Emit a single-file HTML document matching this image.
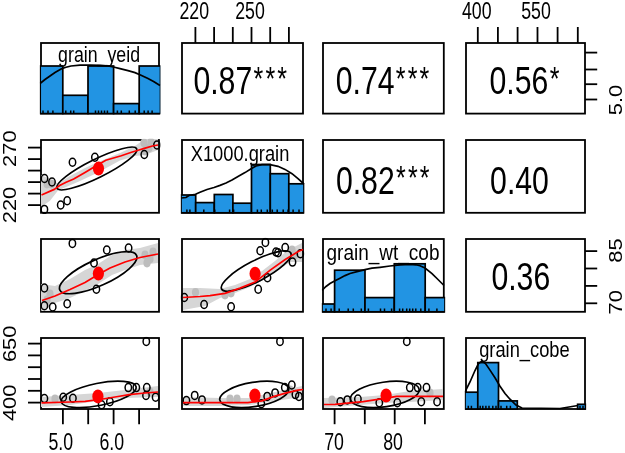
<!DOCTYPE html><html><head><meta charset="utf-8"><style>html,body{margin:0;padding:0;background:#fff;overflow:hidden}svg{display:block;filter:blur(0.3px)}text{font-family:"Liberation Sans",sans-serif}</style></head><body>
<svg width="625" height="453" viewBox="0 0 625 453">
<defs>
<clipPath id="c00"><rect x="39.8" y="41.8" width="120.6" height="73.0"/></clipPath>
<clipPath id="c01"><rect x="180.8" y="41.8" width="123.6" height="73.0"/></clipPath>
<clipPath id="c02"><rect x="321.8" y="41.8" width="123.4" height="73.0"/></clipPath>
<clipPath id="c03"><rect x="464.8" y="41.8" width="121.6" height="73.0"/></clipPath>
<clipPath id="c10"><rect x="39.8" y="138.8" width="120.6" height="75.20000000000002"/></clipPath>
<clipPath id="c11"><rect x="180.8" y="138.8" width="123.6" height="75.20000000000002"/></clipPath>
<clipPath id="c12"><rect x="321.8" y="138.8" width="123.4" height="75.20000000000002"/></clipPath>
<clipPath id="c13"><rect x="464.8" y="138.8" width="121.6" height="75.20000000000002"/></clipPath>
<clipPath id="c20"><rect x="39.8" y="237.8" width="120.6" height="75.20000000000002"/></clipPath>
<clipPath id="c21"><rect x="180.8" y="237.8" width="123.6" height="75.20000000000002"/></clipPath>
<clipPath id="c22"><rect x="321.8" y="237.8" width="123.4" height="75.20000000000002"/></clipPath>
<clipPath id="c23"><rect x="464.8" y="237.8" width="121.6" height="75.20000000000002"/></clipPath>
<clipPath id="c30"><rect x="39.8" y="336.8" width="120.6" height="73.4"/></clipPath>
<clipPath id="c31"><rect x="180.8" y="336.8" width="123.6" height="73.4"/></clipPath>
<clipPath id="c32"><rect x="321.8" y="336.8" width="123.4" height="73.4"/></clipPath>
<clipPath id="c33"><rect x="464.8" y="336.8" width="121.6" height="73.4"/></clipPath>
</defs>
<rect width="625" height="453" fill="#fff"/>
<rect x="41.0" y="43.0" width="118.0" height="70.6" fill="#fff" stroke="#000" stroke-width="1.8"/>
<rect x="182.0" y="43.0" width="121.0" height="70.6" fill="#fff" stroke="#000" stroke-width="1.8"/>
<rect x="323.0" y="43.0" width="120.80000000000001" height="70.6" fill="#fff" stroke="#000" stroke-width="1.8"/>
<rect x="466.0" y="43.0" width="119.0" height="70.6" fill="#fff" stroke="#000" stroke-width="1.8"/>
<rect x="41.0" y="140.0" width="118.0" height="72.80000000000001" fill="#fff" stroke="#000" stroke-width="1.8"/>
<rect x="182.0" y="140.0" width="121.0" height="72.80000000000001" fill="#fff" stroke="#000" stroke-width="1.8"/>
<rect x="323.0" y="140.0" width="120.80000000000001" height="72.80000000000001" fill="#fff" stroke="#000" stroke-width="1.8"/>
<rect x="466.0" y="140.0" width="119.0" height="72.80000000000001" fill="#fff" stroke="#000" stroke-width="1.8"/>
<rect x="41.0" y="239.0" width="118.0" height="72.80000000000001" fill="#fff" stroke="#000" stroke-width="1.8"/>
<rect x="182.0" y="239.0" width="121.0" height="72.80000000000001" fill="#fff" stroke="#000" stroke-width="1.8"/>
<rect x="323.0" y="239.0" width="120.80000000000001" height="72.80000000000001" fill="#fff" stroke="#000" stroke-width="1.8"/>
<rect x="466.0" y="239.0" width="119.0" height="72.80000000000001" fill="#fff" stroke="#000" stroke-width="1.8"/>
<rect x="41.0" y="338.0" width="118.0" height="71.0" fill="#fff" stroke="#000" stroke-width="1.8"/>
<rect x="182.0" y="338.0" width="121.0" height="71.0" fill="#fff" stroke="#000" stroke-width="1.8"/>
<rect x="323.0" y="338.0" width="120.80000000000001" height="71.0" fill="#fff" stroke="#000" stroke-width="1.8"/>
<rect x="466.0" y="338.0" width="119.0" height="71.0" fill="#fff" stroke="#000" stroke-width="1.8"/>
<g clip-path="url(#c00)">
<rect x="40.2" y="66.0" width="22.6" height="47.6" fill="#2294e3" stroke="#000" stroke-width="1.7"/>
<rect x="62.8" y="95.3" width="25.2" height="18.3" fill="#2294e3" stroke="#000" stroke-width="1.7"/>
<rect x="88.0" y="66.0" width="25.6" height="47.6" fill="#2294e3" stroke="#000" stroke-width="1.7"/>
<rect x="113.6" y="103.6" width="25.6" height="10.0" fill="#2294e3" stroke="#000" stroke-width="1.7"/>
<rect x="139.2" y="66.0" width="21.3" height="47.6" fill="#2294e3" stroke="#000" stroke-width="1.7"/>

<line x1="43" y1="110.4" x2="43" y2="113.6" stroke="#000" stroke-width="1.5"/>
<line x1="48" y1="110.4" x2="48" y2="113.6" stroke="#000" stroke-width="1.5"/>
<line x1="52.9" y1="110.4" x2="52.9" y2="113.6" stroke="#000" stroke-width="1.5"/>
<line x1="65.8" y1="110.4" x2="65.8" y2="113.6" stroke="#000" stroke-width="1.5"/>
<line x1="70.7" y1="110.4" x2="70.7" y2="113.6" stroke="#000" stroke-width="1.5"/>
<line x1="73.7" y1="110.4" x2="73.7" y2="113.6" stroke="#000" stroke-width="1.5"/>
<line x1="95.5" y1="110.4" x2="95.5" y2="113.6" stroke="#000" stroke-width="1.5"/>
<line x1="98.5" y1="110.4" x2="98.5" y2="113.6" stroke="#000" stroke-width="1.5"/>
<line x1="101.5" y1="110.4" x2="101.5" y2="113.6" stroke="#000" stroke-width="1.5"/>
<line x1="104.5" y1="110.4" x2="104.5" y2="113.6" stroke="#000" stroke-width="1.5"/>
<line x1="107.4" y1="110.4" x2="107.4" y2="113.6" stroke="#000" stroke-width="1.5"/>
<line x1="117.4" y1="110.4" x2="117.4" y2="113.6" stroke="#000" stroke-width="1.5"/>
<line x1="121.3" y1="110.4" x2="121.3" y2="113.6" stroke="#000" stroke-width="1.5"/>
<line x1="129.3" y1="110.4" x2="129.3" y2="113.6" stroke="#000" stroke-width="1.5"/>
<line x1="135.2" y1="110.4" x2="135.2" y2="113.6" stroke="#000" stroke-width="1.5"/>
<line x1="144.2" y1="110.4" x2="144.2" y2="113.6" stroke="#000" stroke-width="1.5"/>
<line x1="148.1" y1="110.4" x2="148.1" y2="113.6" stroke="#000" stroke-width="1.5"/>
<line x1="152.1" y1="110.4" x2="152.1" y2="113.6" stroke="#000" stroke-width="1.5"/>
<polyline points="40.0,83.5 45.0,79.5 50.0,76.0 55.0,72.5 61.5,68.8 66.0,67.3 71.0,66.0 80.0,65.2 90.0,65.0 100.0,65.3 108.0,66.0 113.5,67.0 120.0,68.6 128.0,70.6 135.0,72.6 141.0,75.2 148.0,78.5 154.0,81.8 160.0,85.5" fill="none" stroke="#000" stroke-width="1.7"/>
</g>
<g clip-path="url(#c11)">
<rect x="181.0" y="195.0" width="14.7" height="17.8" fill="#2294e3" stroke="#000" stroke-width="1.7"/>
<rect x="195.7" y="202.6" width="18.6" height="10.2" fill="#2294e3" stroke="#000" stroke-width="1.7"/>
<rect x="214.3" y="194.5" width="18.6" height="18.3" fill="#2294e3" stroke="#000" stroke-width="1.7"/>
<rect x="232.9" y="203.2" width="18.6" height="9.6" fill="#2294e3" stroke="#000" stroke-width="1.7"/>
<rect x="251.5" y="164.5" width="18.8" height="48.3" fill="#2294e3" stroke="#000" stroke-width="1.7"/>
<rect x="270.3" y="173.7" width="18.5" height="39.1" fill="#2294e3" stroke="#000" stroke-width="1.7"/>
<rect x="288.8" y="183.8" width="15.2" height="29.0" fill="#2294e3" stroke="#000" stroke-width="1.7"/>

<line x1="186.9" y1="209.6" x2="186.9" y2="212.8" stroke="#000" stroke-width="1.5"/>
<line x1="189.9" y1="209.6" x2="189.9" y2="212.8" stroke="#000" stroke-width="1.5"/>
<line x1="203.8" y1="209.6" x2="203.8" y2="212.8" stroke="#000" stroke-width="1.5"/>
<line x1="214.7" y1="209.6" x2="214.7" y2="212.8" stroke="#000" stroke-width="1.5"/>
<line x1="229.6" y1="209.6" x2="229.6" y2="212.8" stroke="#000" stroke-width="1.5"/>
<line x1="233.6" y1="209.6" x2="233.6" y2="212.8" stroke="#000" stroke-width="1.5"/>
<line x1="257.4" y1="209.6" x2="257.4" y2="212.8" stroke="#000" stroke-width="1.5"/>
<line x1="261.3" y1="209.6" x2="261.3" y2="212.8" stroke="#000" stroke-width="1.5"/>
<line x1="267.3" y1="209.6" x2="267.3" y2="212.8" stroke="#000" stroke-width="1.5"/>
<line x1="272.3" y1="209.6" x2="272.3" y2="212.8" stroke="#000" stroke-width="1.5"/>
<line x1="277.2" y1="209.6" x2="277.2" y2="212.8" stroke="#000" stroke-width="1.5"/>
<line x1="283.2" y1="209.6" x2="283.2" y2="212.8" stroke="#000" stroke-width="1.5"/>
<line x1="288.1" y1="209.6" x2="288.1" y2="212.8" stroke="#000" stroke-width="1.5"/>
<line x1="293.1" y1="209.6" x2="293.1" y2="212.8" stroke="#000" stroke-width="1.5"/>
<line x1="299" y1="209.6" x2="299" y2="212.8" stroke="#000" stroke-width="1.5"/>
<polyline points="181.0,198.0 186.0,197.5 189.0,195.5 195.5,194.3 200.0,192.2 207.0,189.5 214.0,187.5 220.0,185.4 226.0,183.0 232.0,180.0 238.0,176.4 245.0,172.6 251.5,168.5 256.0,166.0 262.0,164.6 270.0,164.6 278.0,166.3 285.0,169.4 292.0,173.7 298.0,178.7 304.0,184.0" fill="none" stroke="#000" stroke-width="1.7"/>
</g>
<g clip-path="url(#c22)">
<rect x="322.0" y="304.0" width="12.6" height="7.8" fill="#2294e3" stroke="#000" stroke-width="1.7"/>
<rect x="334.6" y="270.2" width="30.4" height="41.6" fill="#2294e3" stroke="#000" stroke-width="1.7"/>
<rect x="365.0" y="297.6" width="29.3" height="14.2" fill="#2294e3" stroke="#000" stroke-width="1.7"/>
<rect x="394.3" y="263.8" width="30.9" height="48.0" fill="#2294e3" stroke="#000" stroke-width="1.7"/>
<rect x="425.2" y="297.6" width="19.8" height="14.2" fill="#2294e3" stroke="#000" stroke-width="1.7"/>

<line x1="326" y1="308.6" x2="326" y2="311.8" stroke="#000" stroke-width="1.5"/>
<line x1="331.1" y1="308.6" x2="331.1" y2="311.8" stroke="#000" stroke-width="1.5"/>
<line x1="339.2" y1="308.6" x2="339.2" y2="311.8" stroke="#000" stroke-width="1.5"/>
<line x1="348.2" y1="308.6" x2="348.2" y2="311.8" stroke="#000" stroke-width="1.5"/>
<line x1="353.3" y1="308.6" x2="353.3" y2="311.8" stroke="#000" stroke-width="1.5"/>
<line x1="361.3" y1="308.6" x2="361.3" y2="311.8" stroke="#000" stroke-width="1.5"/>
<line x1="368.4" y1="308.6" x2="368.4" y2="311.8" stroke="#000" stroke-width="1.5"/>
<line x1="380.5" y1="308.6" x2="380.5" y2="311.8" stroke="#000" stroke-width="1.5"/>
<line x1="384.5" y1="308.6" x2="384.5" y2="311.8" stroke="#000" stroke-width="1.5"/>
<line x1="391.6" y1="308.6" x2="391.6" y2="311.8" stroke="#000" stroke-width="1.5"/>
<line x1="399.6" y1="308.6" x2="399.6" y2="311.8" stroke="#000" stroke-width="1.5"/>
<line x1="402.7" y1="308.6" x2="402.7" y2="311.8" stroke="#000" stroke-width="1.5"/>
<line x1="406.7" y1="308.6" x2="406.7" y2="311.8" stroke="#000" stroke-width="1.5"/>
<line x1="409.7" y1="308.6" x2="409.7" y2="311.8" stroke="#000" stroke-width="1.5"/>
<line x1="412.7" y1="308.6" x2="412.7" y2="311.8" stroke="#000" stroke-width="1.5"/>
<line x1="415.8" y1="308.6" x2="415.8" y2="311.8" stroke="#000" stroke-width="1.5"/>
<line x1="420.8" y1="308.6" x2="420.8" y2="311.8" stroke="#000" stroke-width="1.5"/>
<line x1="428.9" y1="308.6" x2="428.9" y2="311.8" stroke="#000" stroke-width="1.5"/>
<line x1="436.9" y1="308.6" x2="436.9" y2="311.8" stroke="#000" stroke-width="1.5"/>
<polyline points="322.0,290.3 326.0,286.5 330.0,283.5 335.0,280.8 340.0,278.2 345.0,275.6 350.0,273.5 358.0,271.4 365.0,269.6 372.0,268.2 380.0,267.3 390.0,266.0 400.0,264.8 410.0,264.4 416.0,264.8 420.0,265.8 425.0,268.0 432.0,273.7 438.0,279.5 444.0,285.5" fill="none" stroke="#000" stroke-width="1.7"/>
</g>
<g clip-path="url(#c33)">
<rect x="465.0" y="392.2" width="12.8" height="16.8" fill="#2294e3" stroke="#000" stroke-width="1.7"/>
<rect x="477.8" y="362.6" width="20.7" height="46.4" fill="#2294e3" stroke="#000" stroke-width="1.7"/>
<rect x="498.5" y="400.9" width="18.8" height="8.1" fill="#2294e3" stroke="#000" stroke-width="1.7"/>
<rect x="577.6" y="404.3" width="7.9" height="4.7" fill="#2294e3" stroke="#000" stroke-width="1.7"/>

<line x1="468.3" y1="405.8" x2="468.3" y2="409.0" stroke="#000" stroke-width="1.5"/>
<line x1="471.4" y1="405.8" x2="471.4" y2="409.0" stroke="#000" stroke-width="1.5"/>
<line x1="480.2" y1="405.8" x2="480.2" y2="409.0" stroke="#000" stroke-width="1.5"/>
<line x1="482.8" y1="405.8" x2="482.8" y2="409.0" stroke="#000" stroke-width="1.5"/>
<line x1="485.9" y1="405.8" x2="485.9" y2="409.0" stroke="#000" stroke-width="1.5"/>
<line x1="489" y1="405.8" x2="489" y2="409.0" stroke="#000" stroke-width="1.5"/>
<line x1="492.8" y1="405.8" x2="492.8" y2="409.0" stroke="#000" stroke-width="1.5"/>
<line x1="496" y1="405.8" x2="496" y2="409.0" stroke="#000" stroke-width="1.5"/>
<line x1="501" y1="405.8" x2="501" y2="409.0" stroke="#000" stroke-width="1.5"/>
<line x1="506.7" y1="405.8" x2="506.7" y2="409.0" stroke="#000" stroke-width="1.5"/>
<line x1="510.4" y1="405.8" x2="510.4" y2="409.0" stroke="#000" stroke-width="1.5"/>
<line x1="580" y1="405.8" x2="580" y2="409.0" stroke="#000" stroke-width="1.5"/>
<line x1="583" y1="405.8" x2="583" y2="409.0" stroke="#000" stroke-width="1.5"/>
<polyline points="465.0,391.8 470.0,382.0 475.0,370.5 478.5,363.5 482.0,361.0 485.5,363.6 490.0,370.1 495.0,377.8 500.0,386.2 505.0,393.5 510.0,399.2 516.0,405.0 522.0,408.0 560.0,408.5 572.0,406.5 578.0,405.5" fill="none" stroke="#000" stroke-width="1.7"/>
</g>
<g clip-path="url(#c10)">
<polygon points="41.0,175.0 50.0,179.0 58.0,183.4 70.0,176.0 85.0,168.0 98.0,162.0 120.0,153.0 135.0,146.0 145.0,139.0 158.0,139.0 158.0,150.0 145.0,155.0 135.0,156.0 120.0,160.5 98.0,172.5 80.0,181.0 66.0,187.0 58.0,190.4 50.0,200.7 41.0,207.0" fill="#d6d6d6"/>
<ellipse cx="144.0" cy="143.0" rx="3.6" ry="4.4" fill="#bdbdbd"/>
<ellipse cx="149.0" cy="148.0" rx="3.6" ry="4.4" fill="#bdbdbd"/>
<ellipse cx="145.0" cy="151.0" rx="3.6" ry="4.4" fill="#bdbdbd"/>
<ellipse cx="151.0" cy="142.0" rx="3.6" ry="4.4" fill="#bdbdbd"/>
<ellipse cx="47.0" cy="184.0" rx="3.6" ry="4.4" fill="#bdbdbd"/>
<ellipse cx="51.5" cy="184.0" rx="3.6" ry="4.4" fill="#bdbdbd"/>
<ellipse cx="72.5" cy="162.3" rx="3.2" ry="4.0" fill="none" stroke="#000" stroke-width="1.5"/>
<ellipse cx="94.9" cy="157.2" rx="3.2" ry="4.0" fill="none" stroke="#000" stroke-width="1.5"/>
<ellipse cx="60.7" cy="205.0" rx="3.2" ry="4.0" fill="none" stroke="#000" stroke-width="1.5"/>
<ellipse cx="67.2" cy="200.7" rx="3.2" ry="4.0" fill="none" stroke="#000" stroke-width="1.5"/>
<ellipse cx="44.5" cy="178.5" rx="3.2" ry="4.0" fill="none" stroke="#000" stroke-width="1.5"/>
<ellipse cx="44.4" cy="209.4" rx="3.2" ry="4.0" fill="none" stroke="#000" stroke-width="1.5"/>
<ellipse cx="144.3" cy="154.5" rx="3.2" ry="4.0" fill="none" stroke="#000" stroke-width="1.5"/>
<ellipse cx="157.0" cy="145.0" rx="3.2" ry="4.0" fill="none" stroke="#000" stroke-width="1.5"/>
<ellipse cx="52.0" cy="182.0" rx="3.2" ry="4.0" fill="none" stroke="#000" stroke-width="1.5"/>
<ellipse cx="96.8" cy="168.5" rx="44.5" ry="9.2" transform="rotate(-26.3 96.8 168.5)" fill="none" stroke="#000" stroke-width="1.7"/>
<polyline points="41.5,195.0 54.2,189.4 59.6,185.6 66.1,182.3 73.7,179.1 85.0,172.5 95.0,166.5 105.8,160.3 121.3,155.7 131.5,152.3 138.1,150.2 145.2,148.1 152.4,146.0 158.0,145.0" fill="none" stroke="#f00" stroke-width="1.7"/>
<ellipse cx="98.5" cy="168.6" rx="5.6" ry="7" fill="#f00"/>
</g>
<g clip-path="url(#c20)">
<polygon points="41.0,284.0 55.0,286.0 70.0,279.0 85.0,270.0 98.0,264.0 112.0,255.0 125.0,250.0 140.0,248.0 158.0,243.0 158.0,263.0 140.0,265.0 125.0,270.0 112.0,275.0 98.0,284.0 85.0,291.0 70.0,298.0 55.0,303.0 41.0,311.0" fill="#d6d6d6"/>
<ellipse cx="145.0" cy="255.0" rx="3.6" ry="4.4" fill="#bdbdbd"/>
<ellipse cx="150.0" cy="259.0" rx="3.6" ry="4.4" fill="#bdbdbd"/>
<ellipse cx="147.0" cy="263.0" rx="3.6" ry="4.4" fill="#bdbdbd"/>
<ellipse cx="153.0" cy="252.0" rx="3.6" ry="4.4" fill="#bdbdbd"/>
<ellipse cx="47.0" cy="300.0" rx="3.6" ry="4.4" fill="#bdbdbd"/>
<ellipse cx="50.0" cy="294.0" rx="3.6" ry="4.4" fill="#bdbdbd"/>
<ellipse cx="72.4" cy="243.4" rx="3.2" ry="4.0" fill="none" stroke="#000" stroke-width="1.5"/>
<ellipse cx="106.8" cy="250.0" rx="3.2" ry="4.0" fill="none" stroke="#000" stroke-width="1.5"/>
<ellipse cx="128.6" cy="248.0" rx="3.2" ry="4.0" fill="none" stroke="#000" stroke-width="1.5"/>
<ellipse cx="67.2" cy="303.7" rx="3.2" ry="4.0" fill="none" stroke="#000" stroke-width="1.5"/>
<ellipse cx="96.4" cy="289.2" rx="3.2" ry="4.0" fill="none" stroke="#000" stroke-width="1.5"/>
<ellipse cx="44.4" cy="288.0" rx="3.2" ry="4.0" fill="none" stroke="#000" stroke-width="1.5"/>
<ellipse cx="44.4" cy="305.8" rx="3.2" ry="4.0" fill="none" stroke="#000" stroke-width="1.5"/>
<ellipse cx="52.7" cy="307.0" rx="3.2" ry="4.0" fill="none" stroke="#000" stroke-width="1.5"/>
<ellipse cx="94.0" cy="263.0" rx="3.2" ry="4.0" fill="none" stroke="#000" stroke-width="1.5"/>
<ellipse cx="98.2" cy="272.7" rx="42.1" ry="13.0" transform="rotate(-24.4 98.2 272.7)" fill="none" stroke="#000" stroke-width="1.7"/>
<polyline points="42.0,300.5 55.0,296.0 70.0,289.5 85.0,282.5 97.4,275.0 110.0,268.0 125.0,262.0 140.0,257.5 158.0,254.0" fill="none" stroke="#f00" stroke-width="1.7"/>
<ellipse cx="98.4" cy="273.6" rx="5.6" ry="7" fill="#f00"/>
</g>
<g clip-path="url(#c21)">
<polygon points="183.0,288.0 200.0,288.0 220.0,289.0 235.0,285.0 250.0,279.0 262.0,271.0 275.0,261.0 288.0,250.0 302.0,243.0 302.0,262.0 290.0,262.0 278.0,270.0 265.0,279.0 250.0,287.0 235.0,293.0 220.0,298.0 205.0,306.0 183.0,310.0" fill="#d6d6d6"/>
<ellipse cx="292.0" cy="250.0" rx="3.6" ry="4.4" fill="#bdbdbd"/>
<ellipse cx="295.0" cy="255.0" rx="3.6" ry="4.4" fill="#bdbdbd"/>
<ellipse cx="225.0" cy="295.0" rx="3.6" ry="4.4" fill="#bdbdbd"/>
<ellipse cx="231.0" cy="293.0" rx="3.6" ry="4.4" fill="#bdbdbd"/>
<ellipse cx="195.5" cy="292.3" rx="3.6" ry="4.4" fill="#bdbdbd"/>
<ellipse cx="265.4" cy="242.4" rx="3.2" ry="4.0" fill="none" stroke="#000" stroke-width="1.5"/>
<ellipse cx="260.2" cy="250.7" rx="3.2" ry="4.0" fill="none" stroke="#000" stroke-width="1.5"/>
<ellipse cx="285.2" cy="247.6" rx="3.2" ry="4.0" fill="none" stroke="#000" stroke-width="1.5"/>
<ellipse cx="300.4" cy="253.8" rx="3.2" ry="4.0" fill="none" stroke="#000" stroke-width="1.5"/>
<ellipse cx="258.2" cy="289.2" rx="3.2" ry="4.0" fill="none" stroke="#000" stroke-width="1.5"/>
<ellipse cx="204.1" cy="304.5" rx="3.2" ry="4.0" fill="none" stroke="#000" stroke-width="1.5"/>
<ellipse cx="231.1" cy="306.8" rx="3.2" ry="4.0" fill="none" stroke="#000" stroke-width="1.5"/>
<ellipse cx="184.3" cy="297.5" rx="3.2" ry="4.0" fill="none" stroke="#000" stroke-width="1.5"/>
<ellipse cx="278.0" cy="252.8" rx="3.2" ry="4.0" fill="none" stroke="#000" stroke-width="1.5"/>
<ellipse cx="292.5" cy="262.1" rx="3.2" ry="4.0" fill="none" stroke="#000" stroke-width="1.5"/>
<ellipse cx="267.5" cy="277.7" rx="3.2" ry="4.0" fill="none" stroke="#000" stroke-width="1.5"/>
<ellipse cx="276.0" cy="252.0" rx="3.2" ry="4.0" fill="none" stroke="#000" stroke-width="1.5"/>
<ellipse cx="256.2" cy="271.0" rx="39.0" ry="10.3" transform="rotate(-27.5 256.2 271.0)" fill="none" stroke="#000" stroke-width="1.7"/>
<polyline points="183.0,297.5 200.0,296.5 210.0,295.6 225.0,293.4 240.0,288.1 255.1,282.1 270.2,270.1 285.2,259.5 298.7,251.3 303.0,249.5" fill="none" stroke="#f00" stroke-width="1.7"/>
<ellipse cx="255.1" cy="273.8" rx="5.6" ry="7" fill="#f00"/>
</g>
<g clip-path="url(#c30)">
<polygon points="41.0,397.0 70.0,395.0 98.0,393.0 125.0,390.0 158.0,386.0 158.0,397.0 125.0,398.0 98.0,401.0 70.0,405.0 41.0,407.0" fill="#d6d6d6"/>
<ellipse cx="150.0" cy="392.0" rx="3.6" ry="4.4" fill="#bdbdbd"/>
<ellipse cx="55.0" cy="399.0" rx="3.6" ry="4.4" fill="#bdbdbd"/>
<ellipse cx="146.3" cy="341.4" rx="3.2" ry="4.0" fill="none" stroke="#000" stroke-width="1.5"/>
<ellipse cx="128.3" cy="387.6" rx="3.2" ry="4.0" fill="none" stroke="#000" stroke-width="1.5"/>
<ellipse cx="136.3" cy="387.6" rx="3.2" ry="4.0" fill="none" stroke="#000" stroke-width="1.5"/>
<ellipse cx="146.8" cy="387.6" rx="3.2" ry="4.0" fill="none" stroke="#000" stroke-width="1.5"/>
<ellipse cx="146.0" cy="395.5" rx="3.2" ry="4.0" fill="none" stroke="#000" stroke-width="1.5"/>
<ellipse cx="155.6" cy="397.3" rx="3.2" ry="4.0" fill="none" stroke="#000" stroke-width="1.5"/>
<ellipse cx="63.2" cy="397.3" rx="3.2" ry="4.0" fill="none" stroke="#000" stroke-width="1.5"/>
<ellipse cx="72.9" cy="398.2" rx="3.2" ry="4.0" fill="none" stroke="#000" stroke-width="1.5"/>
<ellipse cx="44.4" cy="398.6" rx="3.2" ry="4.0" fill="none" stroke="#000" stroke-width="1.5"/>
<ellipse cx="109.9" cy="401.7" rx="3.2" ry="4.0" fill="none" stroke="#000" stroke-width="1.5"/>
<ellipse cx="101.6" cy="404.8" rx="3.2" ry="4.0" fill="none" stroke="#000" stroke-width="1.5"/>
<ellipse cx="98.7" cy="394.4" rx="38.2" ry="11.1" transform="rotate(-11.3 98.7 394.4)" fill="none" stroke="#000" stroke-width="1.7"/>
<polyline points="41.5,402.8 70.0,402.0 85.2,401.3 102.8,399.0 118.0,396.5 129.2,394.6 145.0,393.0 158.0,392.0" fill="none" stroke="#f00" stroke-width="1.7"/>
<ellipse cx="97.9" cy="396.4" rx="5.6" ry="7" fill="#f00"/>
</g>
<g clip-path="url(#c31)">
<polygon points="183.0,397.0 220.0,398.0 250.0,398.0 275.0,392.0 302.0,386.0 302.0,397.0 275.0,401.0 250.0,405.0 220.0,406.0 183.0,406.0" fill="#d6d6d6"/>
<ellipse cx="230.0" cy="399.0" rx="3.6" ry="4.4" fill="#bdbdbd"/>
<ellipse cx="237.0" cy="399.0" rx="3.6" ry="4.4" fill="#bdbdbd"/>
<ellipse cx="290.0" cy="390.0" rx="3.6" ry="4.4" fill="#bdbdbd"/>
<ellipse cx="280.0" cy="341.4" rx="3.2" ry="4.0" fill="none" stroke="#000" stroke-width="1.5"/>
<ellipse cx="291.8" cy="385.0" rx="3.2" ry="4.0" fill="none" stroke="#000" stroke-width="1.5"/>
<ellipse cx="295.4" cy="394.6" rx="3.2" ry="4.0" fill="none" stroke="#000" stroke-width="1.5"/>
<ellipse cx="298.9" cy="396.4" rx="3.2" ry="4.0" fill="none" stroke="#000" stroke-width="1.5"/>
<ellipse cx="284.8" cy="387.6" rx="3.2" ry="4.0" fill="none" stroke="#000" stroke-width="1.5"/>
<ellipse cx="275.1" cy="392.9" rx="3.2" ry="4.0" fill="none" stroke="#000" stroke-width="1.5"/>
<ellipse cx="267.2" cy="396.4" rx="3.2" ry="4.0" fill="none" stroke="#000" stroke-width="1.5"/>
<ellipse cx="202.0" cy="399.9" rx="3.2" ry="4.0" fill="none" stroke="#000" stroke-width="1.5"/>
<ellipse cx="194.7" cy="395.4" rx="3.2" ry="4.0" fill="none" stroke="#000" stroke-width="1.5"/>
<ellipse cx="186.4" cy="400.6" rx="3.2" ry="4.0" fill="none" stroke="#000" stroke-width="1.5"/>
<ellipse cx="261.3" cy="403.8" rx="3.2" ry="4.0" fill="none" stroke="#000" stroke-width="1.5"/>
<ellipse cx="254.2" cy="394.4" rx="34.9" ry="12.1" transform="rotate(-9.2 254.2 394.4)" fill="none" stroke="#000" stroke-width="1.7"/>
<polyline points="183.0,402.6 217.9,402.6 247.8,402.6 261.9,400.8 274.2,396.4 286.5,392.9 298.0,390.2 303.0,389.5" fill="none" stroke="#f00" stroke-width="1.7"/>
<ellipse cx="254.9" cy="395.5" rx="5.6" ry="7" fill="#f00"/>
</g>
<g clip-path="url(#c32)">
<polygon points="324.0,398.0 360.0,397.0 385.0,395.0 410.0,391.0 443.0,389.0 443.0,400.0 410.0,402.0 385.0,403.0 360.0,405.0 324.0,408.0" fill="#d6d6d6"/>
<ellipse cx="430.0" cy="393.0" rx="3.6" ry="4.4" fill="#bdbdbd"/>
<ellipse cx="332.0" cy="400.0" rx="3.6" ry="4.4" fill="#bdbdbd"/>
<ellipse cx="406.8" cy="341.5" rx="3.2" ry="4.0" fill="none" stroke="#000" stroke-width="1.5"/>
<ellipse cx="409.8" cy="387.6" rx="3.2" ry="4.0" fill="none" stroke="#000" stroke-width="1.5"/>
<ellipse cx="417.7" cy="387.6" rx="3.2" ry="4.0" fill="none" stroke="#000" stroke-width="1.5"/>
<ellipse cx="426.5" cy="387.6" rx="3.2" ry="4.0" fill="none" stroke="#000" stroke-width="1.5"/>
<ellipse cx="421.3" cy="401.7" rx="3.2" ry="4.0" fill="none" stroke="#000" stroke-width="1.5"/>
<ellipse cx="437.1" cy="401.7" rx="3.2" ry="4.0" fill="none" stroke="#000" stroke-width="1.5"/>
<ellipse cx="347.3" cy="399.9" rx="3.2" ry="4.0" fill="none" stroke="#000" stroke-width="1.5"/>
<ellipse cx="357.9" cy="399.0" rx="3.2" ry="4.0" fill="none" stroke="#000" stroke-width="1.5"/>
<ellipse cx="340.3" cy="401.7" rx="3.2" ry="4.0" fill="none" stroke="#000" stroke-width="1.5"/>
<ellipse cx="379.3" cy="402.7" rx="3.2" ry="4.0" fill="none" stroke="#000" stroke-width="1.5"/>
<ellipse cx="397.3" cy="402.7" rx="3.2" ry="4.0" fill="none" stroke="#000" stroke-width="1.5"/>
<ellipse cx="384.8" cy="394.4" rx="34.7" ry="12.3" transform="rotate(-8.3 384.8 394.4)" fill="none" stroke="#000" stroke-width="1.7"/>
<polyline points="324.0,404.5 335.0,404.3 363.2,401.7 386.1,398.2 396.6,396.4 420.0,396.4 443.0,396.4" fill="none" stroke="#f00" stroke-width="1.7"/>
<ellipse cx="386.1" cy="395.5" rx="5.6" ry="7" fill="#f00"/>
</g>
<line x1="195.4" y1="27" x2="195.4" y2="43" stroke="#000" stroke-width="1.8"/>
<line x1="214.1" y1="27" x2="214.1" y2="43" stroke="#000" stroke-width="1.8"/>
<line x1="232.8" y1="27" x2="232.8" y2="43" stroke="#000" stroke-width="1.8"/>
<line x1="251.5" y1="27" x2="251.5" y2="43" stroke="#000" stroke-width="1.8"/>
<line x1="270.2" y1="27" x2="270.2" y2="43" stroke="#000" stroke-width="1.8"/>
<line x1="288.9" y1="27" x2="288.9" y2="43" stroke="#000" stroke-width="1.8"/>
<line x1="477.8" y1="27" x2="477.8" y2="43" stroke="#000" stroke-width="1.8"/>
<line x1="497.9" y1="27" x2="497.9" y2="43" stroke="#000" stroke-width="1.8"/>
<line x1="517.6" y1="27" x2="517.6" y2="43" stroke="#000" stroke-width="1.8"/>
<line x1="537.5" y1="27" x2="537.5" y2="43" stroke="#000" stroke-width="1.8"/>
<line x1="557.6" y1="27" x2="557.6" y2="43" stroke="#000" stroke-width="1.8"/>
<line x1="577.8" y1="27" x2="577.8" y2="43" stroke="#000" stroke-width="1.8"/>
<line x1="62.9" y1="409" x2="62.9" y2="424.2" stroke="#000" stroke-width="1.8"/>
<line x1="88.2" y1="409" x2="88.2" y2="424.2" stroke="#000" stroke-width="1.8"/>
<line x1="113.6" y1="409" x2="113.6" y2="424.2" stroke="#000" stroke-width="1.8"/>
<line x1="139.1" y1="409" x2="139.1" y2="424.2" stroke="#000" stroke-width="1.8"/>
<line x1="334.6" y1="409" x2="334.6" y2="424.2" stroke="#000" stroke-width="1.8"/>
<line x1="364.8" y1="409" x2="364.8" y2="424.2" stroke="#000" stroke-width="1.8"/>
<line x1="394.7" y1="409" x2="394.7" y2="424.2" stroke="#000" stroke-width="1.8"/>
<line x1="424.9" y1="409" x2="424.9" y2="424.2" stroke="#000" stroke-width="1.8"/>
<line x1="28" y1="147.6" x2="41" y2="147.6" stroke="#000" stroke-width="1.8"/>
<line x1="28" y1="159.1" x2="41" y2="159.1" stroke="#000" stroke-width="1.8"/>
<line x1="28" y1="170.6" x2="41" y2="170.6" stroke="#000" stroke-width="1.8"/>
<line x1="28" y1="182.1" x2="41" y2="182.1" stroke="#000" stroke-width="1.8"/>
<line x1="28" y1="193.6" x2="41" y2="193.6" stroke="#000" stroke-width="1.8"/>
<line x1="28" y1="205.1" x2="41" y2="205.1" stroke="#000" stroke-width="1.8"/>
<line x1="28" y1="343.6" x2="41" y2="343.6" stroke="#000" stroke-width="1.8"/>
<line x1="28" y1="355.40000000000003" x2="41" y2="355.40000000000003" stroke="#000" stroke-width="1.8"/>
<line x1="28" y1="367.20000000000005" x2="41" y2="367.20000000000005" stroke="#000" stroke-width="1.8"/>
<line x1="28" y1="379.0" x2="41" y2="379.0" stroke="#000" stroke-width="1.8"/>
<line x1="28" y1="390.8" x2="41" y2="390.8" stroke="#000" stroke-width="1.8"/>
<line x1="28" y1="402.6" x2="41" y2="402.6" stroke="#000" stroke-width="1.8"/>
<line x1="585" y1="52.6" x2="597.2" y2="52.6" stroke="#000" stroke-width="1.8"/>
<line x1="585" y1="69.5" x2="597.2" y2="69.5" stroke="#000" stroke-width="1.8"/>
<line x1="585" y1="84.2" x2="597.2" y2="84.2" stroke="#000" stroke-width="1.8"/>
<line x1="585" y1="99.5" x2="597.2" y2="99.5" stroke="#000" stroke-width="1.8"/>
<line x1="585" y1="303.3" x2="597.2" y2="303.3" stroke="#000" stroke-width="1.8"/>
<line x1="585" y1="285.90000000000003" x2="597.2" y2="285.90000000000003" stroke="#000" stroke-width="1.8"/>
<line x1="585" y1="268.5" x2="597.2" y2="268.5" stroke="#000" stroke-width="1.8"/>
<line x1="585" y1="251.10000000000002" x2="597.2" y2="251.10000000000002" stroke="#000" stroke-width="1.8"/>
<text transform="translate(194.3 18.9) scale(0.725 1.0)" font-size="24.5" text-anchor="middle" fill="#000">220</text>
<text transform="translate(250.0 18.9) scale(0.725 1.0)" font-size="24.5" text-anchor="middle" fill="#000">250</text>
<text transform="translate(476.7 18.9) scale(0.725 1.0)" font-size="24.5" text-anchor="middle" fill="#000">400</text>
<text transform="translate(536.0 18.9) scale(0.725 1.0)" font-size="24.5" text-anchor="middle" fill="#000">550</text>
<text transform="translate(60.8 450.2) scale(0.725 1.0)" font-size="24.5" text-anchor="middle" fill="#000">5.0</text>
<text transform="translate(111.8 450.2) scale(0.725 1.0)" font-size="24.5" text-anchor="middle" fill="#000">6.0</text>
<text transform="translate(334.1 450.2) scale(0.725 1.0)" font-size="24.5" text-anchor="middle" fill="#000">70</text>
<text transform="translate(393.1 450.2) scale(0.725 1.0)" font-size="24.5" text-anchor="middle" fill="#000">80</text>
<text transform="translate(16.4 148.7) rotate(-90) scale(1.22 1.0)" font-size="18.0" text-anchor="middle" fill="#000">270</text>
<text transform="translate(16.4 205.0) rotate(-90) scale(1.22 1.0)" font-size="18.0" text-anchor="middle" fill="#000">220</text>
<text transform="translate(16.4 343.8) rotate(-90) scale(1.22 1.0)" font-size="18.0" text-anchor="middle" fill="#000">650</text>
<text transform="translate(16.4 402.8) rotate(-90) scale(1.22 1.0)" font-size="18.0" text-anchor="middle" fill="#000">400</text>
<text transform="translate(621.8 100.0) rotate(-90) scale(1.22 1.0)" font-size="18.0" text-anchor="middle" fill="#000">5.0</text>
<text transform="translate(621.8 250.6) rotate(-90) scale(1.22 1.0)" font-size="18.0" text-anchor="middle" fill="#000">85</text>
<text transform="translate(621.8 302.2) rotate(-90) scale(1.22 1.0)" font-size="18.0" text-anchor="middle" fill="#000">70</text>
<text transform="translate(193.4 94.3) scale(0.775 1)" font-size="39.0" text-anchor="start">0.87<tspan font-size="32.4" dx="1.7" dy="-4.6" letter-spacing="2.75">***</tspan></text>
<text transform="translate(335.7 94.3) scale(0.775 1)" font-size="39.0" text-anchor="start">0.74<tspan font-size="32.4" dx="1.7" dy="-4.6" letter-spacing="2.75">***</tspan></text>
<text transform="translate(489.5 94.3) scale(0.775 1)" font-size="39.0" text-anchor="start">0.56<tspan font-size="32.4" dx="1.7" dy="-4.6" letter-spacing="2.75">*</tspan></text>
<text transform="translate(335.9 193.5) scale(0.775 1)" font-size="39.0" text-anchor="start">0.82<tspan font-size="32.4" dx="1.7" dy="-4.6" letter-spacing="2.75">***</tspan></text>
<text transform="translate(490.1 193.5) scale(0.775 1)" font-size="39.0" text-anchor="start">0.40</text>
<text transform="translate(491.4 290.2) scale(0.775 1)" font-size="39.0" text-anchor="start">0.36</text>
<text transform="translate(99.1 62.0) scale(0.808 1.0)" font-size="22.0" text-anchor="middle" fill="#000">grain_yeid</text>
<text transform="translate(240.0 160.8) scale(0.832 1.0)" font-size="22.0" text-anchor="middle" fill="#000">X1000.grain</text>
<text transform="translate(383.0 259.7) scale(0.864 1.0)" font-size="22.0" text-anchor="middle" fill="#000">grain_wt_cob</text>
<text transform="translate(524.4 356.9) scale(0.832 1.0)" font-size="22.0" text-anchor="middle" fill="#000">grain_cobe</text>
</svg></body></html>
